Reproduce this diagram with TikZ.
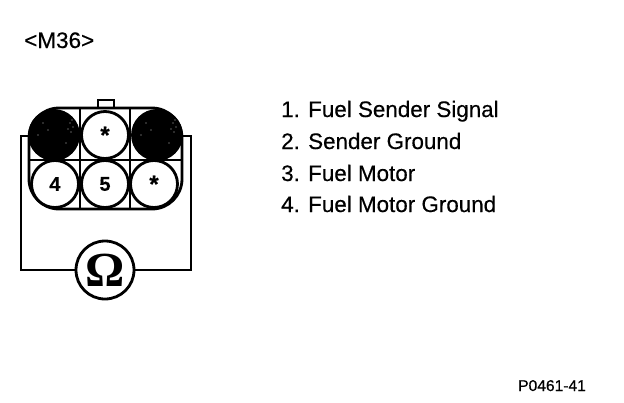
\documentclass[tikz,border=0pt]{standalone}
\usepackage{fontspec}
\setmainfont[FakeBold=0.35]{Liberation Sans}
\newfontfamily\omegafont{Liberation Serif}
\tikzset{
  x=1pt,y=-1pt,
  wire/.style={draw=black,line width=2.6pt},
  thin grid/.style={draw=black,line width=2pt},
  pin/.style={circle,draw=black,fill=white,line width=2.8pt,minimum size=47pt,inner sep=0pt,font=\fontsize{20}{20}\selectfont\bfseries},
  darkpin/.style={pin,fill=black,minimum size=49pt},
  speck/.style={fill=white,opacity=.75},
  meter/.style={circle,draw=black,fill=white,line width=2.8pt,minimum size=58pt,inner sep=0pt,font=\omegafont\fontsize{49}{49}\selectfont\bfseries},
  listitem/.style={anchor=base west,inner sep=0pt,font=\fontsize{22.4}{23}\selectfont},
  lbl/.style={anchor=base west,inner sep=0pt}
}
\begin{document}
\begin{tikzpicture}
\useasboundingbox[fill=white] (0,0) rectangle (624,402);
\node[lbl,font=\fontsize{22.5}{22}\selectfont] (title) at (24,48) {<M36>};
% wire loop
\coordinate (wl) at (28,136);
\coordinate (wr) at (182,136);
\node[meter] (ohm) at (105,270) {\raisebox{-1pt}{Ω}};
\draw[wire] (wl) -- (21,136) -- (21,270) -- (ohm);
\draw[wire] (wr) -- (191,136) -- (191,270) -- (ohm);
% connector tab and body
\draw[wire,line width=2pt] (98,108) -- (98,100) -- (114,100) -- (114,108);
\draw[wire,line width=2.8pt,fill=white,rounded corners=30pt] (29,108) rectangle (182,209);
\draw[thin grid] (80,108) -- (80,209) (130,108) -- (130,209) (29,160) -- (182,160);
% dark pins reach into the rounded corners of the body
\begin{scope}
\clip[rounded corners=30pt] (29,108) rectangle (182,209);
\fill (29,108) rectangle (56,136);
\fill (155,108) rectangle (182,136);
\end{scope}
% pins
\node[darkpin] (p1) at (54,135) {};
\node[pin] (p2) at (105,135) {\raisebox{-6pt}{\fontsize{24}{24}\selectfont *}};
\node[darkpin] (p3) at (157,135) {};
\node[pin] (p4) at (55,184) {4};
\node[pin] (p5) at (105,184) {5};
\node[pin] (p6) at (154,184) {\raisebox{-6pt}{\fontsize{24}{24}\selectfont *}};
% speckles on the dark pins
\foreach \sx/\sy in {70/123,73/127,68/129,71/132,43/123,48/130,66/143,38/135,72/120}{
  \fill[speck] (\sx,\sy) circle (.6pt);
  \fill[speck] (\sx+103,\sy) circle (.6pt);
}
% list
\node[listitem] (l1) at (281,117) {1. Fuel Sender Signal};
\node[listitem] (l2) at (281,149) {2. Sender Ground};
\node[listitem] (l3) at (281,181) {3. Fuel Motor};
\node[listitem] (l4) at (281,212) {4. Fuel Motor Ground};
\node[lbl,font=\fontsize{15.6}{16}\selectfont] (code) at (518,391) {P0461-41};
\end{tikzpicture}
\end{document}
